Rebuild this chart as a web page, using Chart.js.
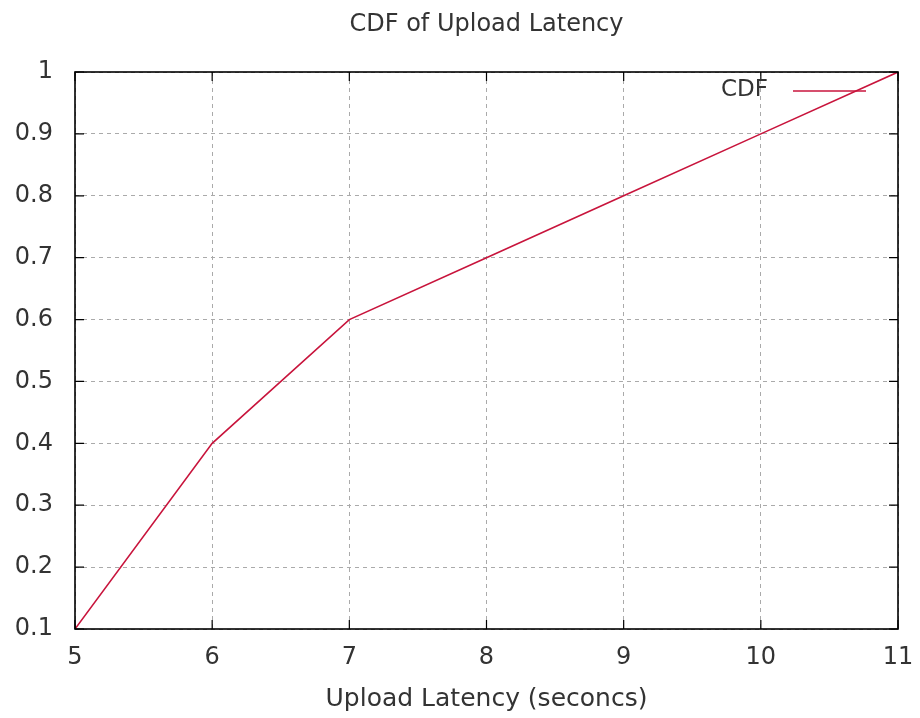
<!DOCTYPE html>
<html>
<head>
<meta charset="utf-8">
<script src="https://cdn.jsdelivr.net/npm/chart.js@4"></script>
<style>
  html, body { margin: 0; padding: 0; background: #fff; }
  #wrap { width: 920px; height: 718px; }
</style>
</head>
<body>
<div id="wrap"><canvas id="myChart"></canvas></div>
<script>
  const latency = [5, 6, 7, 8, 9, 10, 11];
  const cdf = [0.1, 0.4, 0.6, 0.7, 0.8, 0.9, 1.0];
  const xTicks = [5, 6, 7, 8, 9, 10, 11];
  const yTicks = [0.1, 0.2, 0.3, 0.4, 0.5, 0.6, 0.7, 0.8, 0.9, 1];

  const lineColor = '#c8143c';
  const textColor = '#333';
  const gridColor = '#aaa';
  const fontFamily = '"DejaVu Sans", sans-serif';

  // gnuplot-style border with inward ticks on all four sides, plus the key
  const frame = {
    id: 'frame',
    afterDatasetsDraw(chart) {
      const { ctx, chartArea: a, scales: { x, y } } = chart;
      ctx.save();
      ctx.strokeStyle = '#000';
      ctx.lineWidth = 1.6;
      ctx.strokeRect(a.left, a.top, a.right - a.left, a.bottom - a.top);
      ctx.lineWidth = 1.2;
      ctx.beginPath();
      xTicks.forEach(v => {
        const px = x.getPixelForValue(v);
        ctx.moveTo(px, a.bottom); ctx.lineTo(px, a.bottom - 9);
        ctx.moveTo(px, a.top); ctx.lineTo(px, a.top + 9);
      });
      yTicks.forEach(v => {
        const py = y.getPixelForValue(v);
        ctx.moveTo(a.left, py); ctx.lineTo(a.left + 9, py);
        ctx.moveTo(a.right, py); ctx.lineTo(a.right - 9, py);
      });
      ctx.stroke();

      const ds = chart.data.datasets[0];
      ctx.font = '23px ' + fontFamily;
      ctx.fillStyle = textColor;
      ctx.textAlign = 'right';
      ctx.textBaseline = 'middle';
      ctx.fillText(ds.label, 768, 90);
      ctx.strokeStyle = ds.borderColor;
      ctx.lineWidth = 1.5;
      ctx.beginPath();
      ctx.moveTo(793, 91); ctx.lineTo(866, 91);
      ctx.stroke();
      ctx.restore();
    }
  };

  const config = {
    type: 'line',
    data: {
      datasets: [{
        label: 'CDF',
        data: latency.map((v, i) => ({ x: v, y: cdf[i] })),
        borderColor: lineColor,
        borderWidth: 1.6,
        pointRadius: 0,
        tension: 0,
        fill: false
      }]
    },
    options: {
      responsive: true,
      maintainAspectRatio: false,
      animation: false,
      layout: { padding: 0 },
      plugins: {
        legend: { display: false },
        tooltip: { enabled: false },
        title: {
          display: true,
          fullSize: false,
          text: 'CDF of Upload Latency',
          color: textColor,
          font: { family: fontFamily, size: 24, weight: 'normal', lineHeight: 1.2 },
          padding: { top: 10, bottom: 33.2 }
        }
      },
      scales: {
        x: {
          type: 'linear',
          min: 5,
          max: 11,
          afterBuildTicks: s => { s.ticks = xTicks.map(v => ({ value: v })); },
          afterFit: s => {
            s.height = 89;
            s.paddingLeft = 0;
            s.paddingRight = 22;
          },
          grid: {
            color: gridColor,
            lineWidth: 1,
            drawTicks: false
          },
          border: { display: false, dash: [4, 4] },
          ticks: {
            color: textColor,
            padding: 14,
            maxRotation: 0,
            font: { family: fontFamily, size: 24 }
          },
          title: {
            display: true,
            text: 'Upload Latency (seconcs)',
            color: textColor,
            font: { family: fontFamily, size: 25, lineHeight: 1.2 },
            padding: { top: 0, bottom: 4 }
          }
        },
        y: {
          type: 'linear',
          min: 0.1,
          max: 1,
          afterBuildTicks: s => { s.ticks = yTicks.map(v => ({ value: v })); },
          afterFit: s => { s.width = 75; },
          grid: {
            color: gridColor,
            lineWidth: 1,
            drawTicks: false
          },
          border: { display: false, dash: [4, 4] },
          ticks: {
            color: textColor,
            padding: 22,
            font: { family: fontFamily, size: 24 },
            callback: v => String(Math.round(v * 10) / 10)
          }
        }
      }
    },
    plugins: [frame]
  };

  const myChart = new Chart(document.getElementById('myChart'), config);
</script>
</body>
</html>
